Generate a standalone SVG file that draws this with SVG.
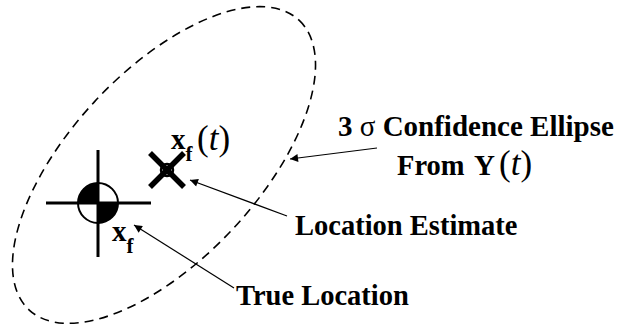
<svg xmlns="http://www.w3.org/2000/svg" width="621" height="324" viewBox="0 0 621 324">
<style>
text{font-family:'Liberation Serif','Times New Roman',serif;fill:#000}
.t{font-weight:700}
.m{font-weight:400}
.c{stroke:#000;fill:none;stroke-width:1.2}
</style>
<defs>
<marker id="ah" viewBox="0 0 10 10" refX="10" refY="5" markerWidth="11" markerHeight="8" markerUnits="userSpaceOnUse" orient="auto">
<path d="M0,0 L10,5 L0,10 Z" fill="#000"/>
</marker>
</defs>
<rect width="621" height="324" fill="#fff"/>
<g id="ellipse">
<ellipse cx="164" cy="165" rx="198" ry="94" transform="rotate(-47 164 165)" fill="none" stroke="#000" stroke-width="1.6" stroke-dasharray="9 6"/>
</g>
<g id="true-location">
<circle cx="98" cy="203" r="20" fill="#fff" stroke="#000" stroke-width="2"/>
<path d="M98,203 L78,203 A20,20 0 0,1 98,183 Z" fill="#000"/>
<path d="M98,203 L118,203 A20,20 0 0,1 98,223 Z" fill="#000"/>
<line x1="46" y1="203" x2="151" y2="203" stroke="#000" stroke-width="3"/>
<line x1="98" y1="150" x2="98" y2="257" stroke="#000" stroke-width="3"/>
<text class="t" x="112" y="241" font-size="29">x<tspan font-size="21" dy="12">f</tspan></text>
</g>
<g id="estimate">
<circle cx="167" cy="170" r="6" fill="#fff" stroke="#000" stroke-width="2.5"/>
<line x1="150" y1="153" x2="184" y2="187" stroke="#000" stroke-width="5.5"/>
<line x1="184" y1="153" x2="150" y2="187" stroke="#000" stroke-width="5.5"/>
<text class="t" x="171" y="149" font-size="29">x<tspan font-size="21" dy="12">f</tspan></text>
<text class="m" x="197" y="150" font-size="35">(<tspan font-style="italic">t</tspan>)</text>
</g>
<g id="label-confidence">
<text class="t" x="338" y="136" font-size="29">3 <tspan class="m">σ</tspan> Confidence Ellipse</text>
<text class="t" x="397" y="175" font-size="28.5">From<tspan x="474" font-size="29">Y</tspan><tspan x="499" class="m" font-size="35">(<tspan font-style="italic">t</tspan>)</tspan></text>
</g>
<g id="label-estimate">
<text class="t" x="295" y="235" font-size="28.5">Location Estimate</text>
</g>
<g id="label-true">
<text class="t" x="236" y="305" font-size="28.5">True Location</text>
</g>
<g id="connectors">
<line class="c" x1="377" y1="148" x2="290" y2="159" marker-end="url(#ah)"/>
<line class="c" x1="287" y1="216" x2="190" y2="180" marker-end="url(#ah)"/>
<line class="c" x1="234" y1="288" x2="134" y2="225" marker-end="url(#ah)"/>
</g>
</svg>
